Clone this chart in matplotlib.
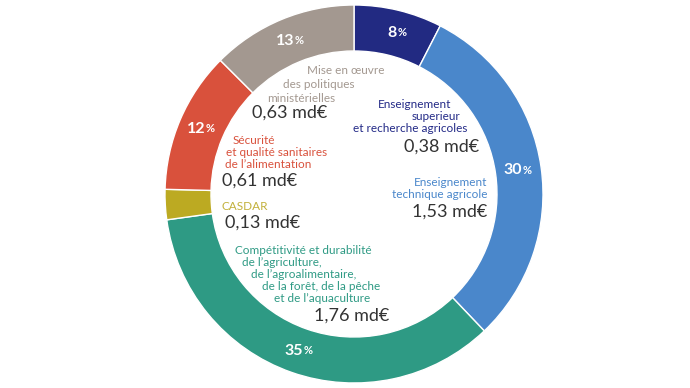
import matplotlib
matplotlib.use("Agg")
import matplotlib.pyplot as plt
import numpy as np

plt.rcParams['font.family'] = ['Lato', 'DejaVu Sans']

# Data
categories = ["Enseignement supérieur et recherche agricoles",
              "Enseignement technique agricole",
              "Compétitivité et durabilité",
              "CASDAR",
              "Sécurité et qualité sanitaires de l'alimentation",
              "Mise en œuvre des politiques ministérielles"]
values = [0.38, 1.53, 1.76, 0.13, 0.61, 0.63]
pct_labels = ["8", "30", "35", "", "12", "13"]
colors = ["#222a82", "#4a87cb", "#2e9a84", "#bcaa22", "#d9513c", "#a39890"]

W, H = 690, 388
fig = plt.figure(figsize=(W / 100, H / 100), dpi=100)
ax = fig.add_axes([0, 0, 1, 1])

cx, cy = 354, H - 194
R, width = 189, 46
wedges, _ = ax.pie(values, colors=colors, startangle=90, counterclock=False,
                   radius=R, center=(cx, cy),
                   wedgeprops=dict(width=width, edgecolor="white", linewidth=1))
ax.set_xlim(0, W)
ax.set_ylim(0, H)
ax.set_aspect('equal')
ax.axis('off')

# Percent labels on ring
rm = R - width / 2
for w, lab in zip(wedges, pct_labels):
    if not lab:
        continue
    ang = np.deg2rad((w.theta1 + w.theta2) / 2)
    x = cx + rm * np.cos(ang)
    y = cy + rm * np.sin(ang)
    t = ax.text(x + 4, y, lab, ha='right', va='center', color='white',
                fontsize=11.5, fontweight='bold')
    ax.annotate('%', xy=(1.0, 0.1), xycoords=t, xytext=(0.3, 0),
                textcoords='offset points', ha='left', va='bottom',
                color='white', fontsize=8, fontweight='bold')

def T(x, ytop, s, color, size=8.5, ha='left'):
    ax.text(x, H - ytop, s, ha=ha, va='center', color=color, fontsize=size)

val_col = "#333333"
vs = 13
# Mise en oeuvre
gc = "#a39890"
T(307, 71, "Mise en œuvre", gc)
T(283, 85, "des politiques", gc)
T(267, 98, "ministérielles", gc)
T(252, 113, "0,63 md€", val_col, vs)
# Enseignement superieur
nc = "#232a87"
T(378, 104, "Enseignement", nc)
T(412, 117, "superieur", nc)
T(353, 129, "et recherche agricoles", nc)
T(404, 147, "0,38 md€", val_col, vs)
# Securite
rc = "#d9513c"
T(233, 140, "Sécurité", rc)
T(226, 152, "et qualité sanitaires", rc)
T(225, 164, "de l’alimentation", rc)
T(222, 181, "0,61 md€", val_col, vs)
# Enseignement technique
bc = "#4a87cb"
T(487, 182, "Enseignement", bc, ha='right')
T(487, 195, "technique agricole", bc, ha='right')
T(487, 212, "1,53 md€", val_col, vs, ha='right')
# CASDAR
oc = "#c2b03a"
T(222, 206, "CASDAR", oc)
T(225, 223, "0,13 md€", val_col, vs)
# Competitivite
tc = "#2e9a84"
T(235, 250, "Compétitivité et durabilité", tc)
T(242, 262, "de l’agriculture,", tc)
T(251, 274, "de l’agroalimentaire,", tc)
T(262, 287, "de la forêt, de la pêche", tc)
T(274, 299, "et de l’aquaculture", tc)
T(314, 316, "1,76 md€", val_col, vs)

fig.savefig("out.png", dpi=100)
